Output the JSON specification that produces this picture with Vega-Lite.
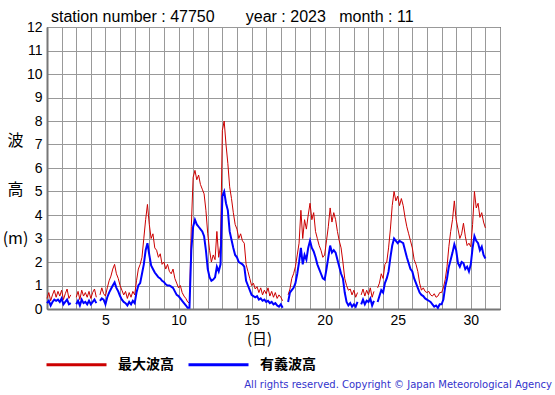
{
"$schema": "https://vega.github.io/schema/vega-lite/v6.json",
"width": 453, "height": 282,
"autosize": {"type": "none"},
"padding": {"left": 47, "top": 27, "right": 55, "bottom": 86},
"background": "white",
"title": {"text": "All rights reserved. Copyright © Japan Meteorological Agency", "orient": "bottom", "anchor": "end", "frame": "group", "offset": 8, "dx": 52, "font": "DejaVu Sans", "fontSize": 10, "fontWeight": "normal", "color": "#3333cc"},
"data": {"values": [
{"d":1.0,"mx":0.45,"sg":0.25},{"d":1.125,"mx":0.7,"sg":0.35},{"d":1.25,"mx":0.35,"sg":0.15},{"d":1.375,"mx":0.6,"sg":0.3},{"d":1.5,"mx":0.8,"sg":0.4},{"d":1.625,"mx":0.5,"sg":0.35},{"d":1.75,"mx":0.75,"sg":0.4},{"d":1.875,"mx":0.55,"sg":0.3},
{"d":2.0,"mx":0.8,"sg":0.45},{"d":2.125,"mx":0.4,"sg":0.2},{"d":2.25,"mx":0.65,"sg":0.3},{"d":2.375,"mx":0.85,"sg":0.4},{"d":2.5,"mx":0.45,"sg":0.2},{"d":2.625,"mx":0.6,"sg":0.25},{"d":2.75,"mx":null,"sg":null},{"d":2.875,"mx":null,"sg":null},
{"d":3.0,"mx":0.5,"sg":0.2},{"d":3.125,"mx":0.75,"sg":0.35},{"d":3.25,"mx":0.4,"sg":0.15},{"d":3.375,"mx":0.8,"sg":0.4},{"d":3.5,"mx":0.55,"sg":0.25},{"d":3.625,"mx":0.7,"sg":0.3},{"d":3.75,"mx":0.5,"sg":0.2},{"d":3.875,"mx":0.75,"sg":0.35},
{"d":4.0,"mx":0.45,"sg":0.2},{"d":4.125,"mx":0.7,"sg":0.3},{"d":4.25,"mx":0.85,"sg":0.4},{"d":4.375,"mx":0.5,"sg":0.25},{"d":4.5,"mx":null,"sg":null},{"d":4.625,"mx":0.6,"sg":0.35},{"d":4.75,"mx":0.9,"sg":0.45},{"d":4.875,"mx":0.65,"sg":0.4},
{"d":5.0,"mx":0.55,"sg":0.2},{"d":5.125,"mx":0.9,"sg":0.5},{"d":5.25,"mx":1.2,"sg":0.7},{"d":5.375,"mx":1.4,"sg":0.85},{"d":5.5,"mx":1.7,"sg":1.0},{"d":5.625,"mx":1.9,"sg":1.13},{"d":5.75,"mx":1.5,"sg":0.9},{"d":5.875,"mx":1.3,"sg":0.75},
{"d":6.0,"mx":1.0,"sg":0.55},{"d":6.125,"mx":0.8,"sg":0.4},{"d":6.25,"mx":0.6,"sg":0.3},{"d":6.375,"mx":0.75,"sg":0.25},{"d":6.5,"mx":0.45,"sg":0.15},{"d":6.625,"mx":0.7,"sg":0.3},{"d":6.75,"mx":0.5,"sg":0.2},{"d":6.875,"mx":0.75,"sg":0.35},
{"d":7.0,"mx":0.6,"sg":0.25},{"d":7.125,"mx":1.2,"sg":0.7},{"d":7.25,"mx":1.7,"sg":1.0},{"d":7.375,"mx":1.9,"sg":1.1},{"d":7.5,"mx":2.2,"sg":1.5},{"d":7.625,"mx":3.0,"sg":1.9},{"d":7.75,"mx":3.8,"sg":2.5},{"d":7.875,"mx":4.45,"sg":2.8},
{"d":8.0,"mx":3.6,"sg":2.3},{"d":8.125,"mx":3.0,"sg":1.85},{"d":8.25,"mx":3.2,"sg":1.7},{"d":8.375,"mx":2.6,"sg":1.55},{"d":8.5,"mx":2.5,"sg":1.45},{"d":8.625,"mx":2.2,"sg":1.35},{"d":8.75,"mx":2.35,"sg":1.3},{"d":8.875,"mx":1.9,"sg":1.2},
{"d":9.0,"mx":2.0,"sg":1.15},{"d":9.125,"mx":1.7,"sg":1.05},{"d":9.25,"mx":1.9,"sg":1.0},{"d":9.375,"mx":1.6,"sg":1.0},{"d":9.5,"mx":1.5,"sg":0.95},{"d":9.625,"mx":1.7,"sg":0.9},{"d":9.75,"mx":1.3,"sg":0.75},{"d":9.875,"mx":1.1,"sg":0.6},
{"d":10.0,"mx":0.9,"sg":0.55},{"d":10.125,"mx":1.0,"sg":0.45},{"d":10.25,"mx":0.7,"sg":0.35},{"d":10.375,"mx":0.55,"sg":0.25},{"d":10.5,"mx":0.45,"sg":0.15},{"d":10.625,"mx":0.3,"sg":0.05},{"d":10.75,"mx":0.25,"sg":0.05},{"d":10.875,"mx":3.5,"sg":2.5},
{"d":11.0,"mx":5.6,"sg":3.5},{"d":11.125,"mx":5.9,"sg":3.8},{"d":11.25,"mx":5.5,"sg":3.6},{"d":11.375,"mx":5.7,"sg":3.5},{"d":11.5,"mx":5.3,"sg":3.4},{"d":11.625,"mx":5.1,"sg":3.3},{"d":11.75,"mx":4.9,"sg":3.1},{"d":11.875,"mx":4.2,"sg":2.5},
{"d":12.0,"mx":3.2,"sg":1.7},{"d":12.125,"mx":2.5,"sg":1.35},{"d":12.25,"mx":2.0,"sg":1.2},{"d":12.375,"mx":2.3,"sg":1.25},{"d":12.5,"mx":2.1,"sg":1.35},{"d":12.625,"mx":3.3,"sg":1.8},{"d":12.75,"mx":2.2,"sg":1.6},{"d":12.875,"mx":2.7,"sg":1.9},
{"d":13.0,"mx":7.6,"sg":4.8},{"d":13.125,"mx":8.0,"sg":5.0},{"d":13.25,"mx":7.0,"sg":4.5},{"d":13.375,"mx":6.2,"sg":4.2},{"d":13.5,"mx":5.2,"sg":3.3},{"d":13.625,"mx":4.7,"sg":2.95},{"d":13.75,"mx":4.1,"sg":2.6},{"d":13.875,"mx":3.6,"sg":2.3},
{"d":14.0,"mx":3.4,"sg":2.2},{"d":14.125,"mx":3.0,"sg":2.0},{"d":14.25,"mx":3.2,"sg":1.95},{"d":14.375,"mx":2.9,"sg":1.9},{"d":14.5,"mx":2.8,"sg":1.8},{"d":14.625,"mx":1.9,"sg":1.2},{"d":14.75,"mx":1.6,"sg":1.0},{"d":14.875,"mx":1.3,"sg":0.8},
{"d":15.0,"mx":1.0,"sg":0.6},{"d":15.125,"mx":1.1,"sg":0.55},{"d":15.25,"mx":0.85,"sg":0.5},{"d":15.375,"mx":0.95,"sg":0.55},{"d":15.5,"mx":0.7,"sg":0.4},{"d":15.625,"mx":0.9,"sg":0.45},{"d":15.75,"mx":0.6,"sg":0.35},{"d":15.875,"mx":0.8,"sg":0.4},
{"d":16.0,"mx":0.65,"sg":0.3},{"d":16.125,"mx":0.9,"sg":0.35},{"d":16.25,"mx":0.55,"sg":0.25},{"d":16.375,"mx":0.75,"sg":0.3},{"d":16.5,"mx":0.5,"sg":0.2},{"d":16.625,"mx":0.7,"sg":0.25},{"d":16.75,"mx":0.45,"sg":0.15},{"d":16.875,"mx":0.6,"sg":0.1},
{"d":17.0,"mx":0.5,"sg":0.2},{"d":17.125,"mx":0.35,"sg":0.05},{"d":17.25,"mx":null,"sg":null},{"d":17.375,"mx":null,"sg":null},{"d":17.5,"mx":0.6,"sg":0.3},{"d":17.625,"mx":0.85,"sg":0.7},{"d":17.75,"mx":1.3,"sg":0.8},{"d":17.875,"mx":1.5,"sg":0.9},
{"d":18.0,"mx":1.8,"sg":1.1},{"d":18.125,"mx":2.3,"sg":1.5},{"d":18.25,"mx":2.8,"sg":2.0},{"d":18.375,"mx":4.2,"sg":2.6},{"d":18.5,"mx":3.0,"sg":1.9},{"d":18.625,"mx":3.8,"sg":2.3},{"d":18.75,"mx":3.4,"sg":2.1},{"d":18.875,"mx":4.0,"sg":2.6},
{"d":19.0,"mx":4.5,"sg":2.9},{"d":19.125,"mx":3.8,"sg":2.6},{"d":19.25,"mx":4.1,"sg":2.45},{"d":19.375,"mx":3.3,"sg":2.2},{"d":19.5,"mx":3.0,"sg":1.9},{"d":19.625,"mx":2.7,"sg":1.7},{"d":19.75,"mx":2.5,"sg":1.5},{"d":19.875,"mx":2.2,"sg":1.3},
{"d":20.0,"mx":2.3,"sg":1.25},{"d":20.125,"mx":2.9,"sg":1.7},{"d":20.25,"mx":3.5,"sg":2.2},{"d":20.375,"mx":4.3,"sg":2.7},{"d":20.5,"mx":3.7,"sg":2.4},{"d":20.625,"mx":4.1,"sg":2.5},{"d":20.75,"mx":3.8,"sg":2.4},{"d":20.875,"mx":3.3,"sg":2.1},
{"d":21.0,"mx":2.9,"sg":1.8},{"d":21.125,"mx":2.6,"sg":1.5},{"d":21.25,"mx":2.0,"sg":1.3},{"d":21.375,"mx":1.3,"sg":0.7},{"d":21.5,"mx":1.0,"sg":0.3},{"d":21.625,"mx":0.8,"sg":0.15},{"d":21.75,"mx":0.85,"sg":0.25},{"d":21.875,"mx":0.6,"sg":0.1},
{"d":22.0,"mx":0.8,"sg":0.2},{"d":22.125,"mx":0.5,"sg":0.1},{"d":22.25,"mx":0.7,"sg":0.3},{"d":22.375,"mx":null,"sg":null},{"d":22.5,"mx":0.6,"sg":0.2},{"d":22.625,"mx":0.85,"sg":0.4},{"d":22.75,"mx":0.55,"sg":0.2},{"d":22.875,"mx":0.8,"sg":0.35},
{"d":23.0,"mx":0.6,"sg":0.3},{"d":23.125,"mx":0.9,"sg":0.45},{"d":23.25,"mx":0.5,"sg":0.15},{"d":23.375,"mx":0.75,"sg":0.35},{"d":23.5,"mx":null,"sg":null},{"d":23.625,"mx":0.9,"sg":0.3},{"d":23.75,"mx":1.1,"sg":0.55},{"d":23.875,"mx":1.5,"sg":0.8},
{"d":24.0,"mx":1.3,"sg":0.7},{"d":24.125,"mx":1.9,"sg":1.1},{"d":24.25,"mx":2.0,"sg":1.3},{"d":24.375,"mx":2.6,"sg":1.6},{"d":24.5,"mx":3.4,"sg":2.2},{"d":24.625,"mx":4.4,"sg":2.7},{"d":24.75,"mx":5.0,"sg":3.0},{"d":24.875,"mx":4.6,"sg":2.9},
{"d":25.0,"mx":4.8,"sg":2.8},{"d":25.125,"mx":4.4,"sg":2.9},{"d":25.25,"mx":4.7,"sg":2.85},{"d":25.375,"mx":4.4,"sg":2.8},{"d":25.5,"mx":3.9,"sg":2.5},{"d":25.625,"mx":3.5,"sg":2.2},{"d":25.75,"mx":3.2,"sg":1.95},{"d":25.875,"mx":2.9,"sg":1.7},
{"d":26.0,"mx":2.6,"sg":1.6},{"d":26.125,"mx":2.1,"sg":1.3},{"d":26.25,"mx":1.9,"sg":1.1},{"d":26.375,"mx":1.6,"sg":0.9},{"d":26.5,"mx":1.1,"sg":0.7},{"d":26.625,"mx":0.8,"sg":0.6},{"d":26.75,"mx":0.9,"sg":0.55},{"d":26.875,"mx":0.75,"sg":0.45},
{"d":27.0,"mx":0.7,"sg":0.4},{"d":27.125,"mx":0.75,"sg":0.35},{"d":27.25,"mx":0.6,"sg":0.3},{"d":27.375,"mx":0.55,"sg":0.2},{"d":27.5,"mx":0.65,"sg":0.1},{"d":27.625,"mx":0.5,"sg":0.15},{"d":27.75,"mx":0.55,"sg":0.05},{"d":27.875,"mx":0.7,"sg":0.2},
{"d":28.0,"mx":0.7,"sg":0.2},{"d":28.125,"mx":0.9,"sg":0.4},{"d":28.25,"mx":1.25,"sg":0.95},{"d":28.375,"mx":1.8,"sg":1.3},{"d":28.5,"mx":2.65,"sg":1.8},{"d":28.625,"mx":3.3,"sg":2.1},{"d":28.75,"mx":3.8,"sg":2.4},{"d":28.875,"mx":4.6,"sg":2.75},
{"d":29.0,"mx":3.8,"sg":2.5},{"d":29.125,"mx":3.4,"sg":1.95},{"d":29.25,"mx":3.0,"sg":1.8},{"d":29.375,"mx":3.2,"sg":2.0},{"d":29.5,"mx":3.65,"sg":1.95},{"d":29.625,"mx":3.1,"sg":1.7},{"d":29.75,"mx":2.7,"sg":1.8},{"d":29.875,"mx":2.8,"sg":1.6},
{"d":30.0,"mx":2.65,"sg":1.9},{"d":30.125,"mx":3.6,"sg":2.6},{"d":30.25,"mx":5.0,"sg":3.1},{"d":30.375,"mx":4.3,"sg":2.9},{"d":30.5,"mx":4.5,"sg":2.8},{"d":30.625,"mx":3.9,"sg":2.5},{"d":30.75,"mx":4.1,"sg":2.65},{"d":30.875,"mx":3.7,"sg":2.3},
{"d":31.0,"mx":3.45,"sg":2.15}
]},
"layer": [
{"mark": {"type": "line", "strokeWidth": 1},
 "encoding": {
  "x": {"field": "d", "type": "quantitative", "scale": {"domain": [1, 32], "nice": false, "zero": false},
        "axis": {"orient": "bottom", "values": [1,2,3,4,5,6,7,8,9,10,11,12,13,14,15,16,17,18,19,20,21,22,23,24,25,26,27,28,29,30,31,32],
                 "labelExpr": "datum.value % 5 == 0 ? datum.value : ''", "labelFlush": false, "labelOverlap": false, "labelPadding": 4,
                 "title": "(日)", "titleFont": "Noto Sans CJK JP", "titleFontSize": 15, "titleFontWeight": "normal", "titleX": 212, "titleY": 29, "titleBaseline": "middle", "titleAlign": "center"}},
  "y": {"field": "mx", "type": "quantitative", "scale": {"domain": [0, 12], "nice": false},
        "axis": {"values": [0,1,2,3,4,5,6,7,8,9,10,11,12], "labelPadding": 5, "labelOverlap": false,
                 "title": ["波", "高", "(m)"], "titleAngle": 0, "titleFont": "Noto Sans CJK JP", "titleFontSize": 16, "titleFontWeight": "normal", "titleLineHeight": 49, "titleX": -32, "titleY": 105, "titleBaseline": "top", "titleAlign": "center"}},
  "color": {"datum": "最大波高", "type": "nominal", "scale": {"domain": ["最大波高", "有義波高"], "range": ["#cc0000", "#0000ff"]},
            "legend": {"orient": "none", "legendX": -2, "legendY": 306, "direction": "horizontal", "title": null, "symbolType": "stroke", "symbolSize": 3600, "symbolStrokeWidth": 3, "labelFont": "Noto Sans CJK JP", "labelFontSize": 14, "labelFontWeight": "bold", "labelColor": "black", "labelOffset": 10, "columnPadding": 8, "padding": 0}}
 }},
{"mark": {"type": "line", "strokeWidth": 2},
 "encoding": {
  "x": {"field": "d", "type": "quantitative",
        "axis": {"orient": "top", "labels": false, "ticks": false, "grid": false, "domain": false,
                 "title": "station number : 47750\u00a0\u00a0\u00a0\u00a0\u00a0\u00a0\u00a0year : 2023\u00a0\u00a0\u00a0month : 11",
                 "titleFont": "Liberation Sans", "titleFontSize": 16, "titleFontWeight": "normal", "titleAlign": "left", "titleAnchor": "start", "titleX": 3.5, "titleY": -6, "titleBaseline": "alphabetic"}},
  "y": {"field": "sg", "type": "quantitative",
        "axis": {"values": [0,1,2,3,4,5,6,7,8,9,10,11,12], "labelPadding": 5, "labelOverlap": false,
                 "title": ["波", "高", "(m)"], "titleAngle": 0, "titleFont": "Noto Sans CJK JP", "titleFontSize": 16, "titleFontWeight": "normal", "titleLineHeight": 49, "titleX": -32, "titleY": 105, "titleBaseline": "top", "titleAlign": "center"}},
  "color": {"datum": "有義波高", "type": "nominal"}
 }}
],
"resolve": {"axis": {"x": "independent"}},
"config": {
  "view": {"stroke": "black", "strokeWidth": 1},
  "axis": {"gridColor": "#999999", "gridOpacity": 1, "gridWidth": 1, "domainColor": "#777777", "domainWidth": 2, "ticks": false, "labelFont": "Liberation Sans", "labelFontSize": 14, "labelColor": "black", "titleColor": "black"}
}
}
